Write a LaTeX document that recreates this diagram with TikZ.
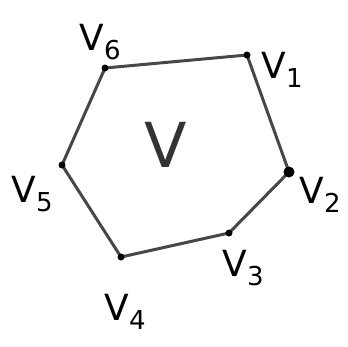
\documentclass[tikz,border=0pt]{standalone}
\usepackage{fontspec}
\setmainfont{DejaVu Sans}
\tikzset{
  edge/.style={draw=black!72, line width=3pt, line join=round},
  vdot/.style={circle, fill=black, inner sep=0pt, minimum size=7pt},
  vlabel/.style={inner sep=0pt, font=\fontsize{36}{36}\selectfont},
}
\newcommand{\vsub}[1]{V\raisebox{-9pt}{\fontsize{26}{26}\selectfont #1}}
\begin{document}
\begin{tikzpicture}[x=1pt,y=-1pt]
\useasboundingbox (0,0) rectangle (348,346);
\coordinate (v6) at (105,68);
\coordinate (v1) at (247,55);
\coordinate (v2) at (289,172);
\coordinate (v3) at (229,233);
\coordinate (v4) at (121,257);
\coordinate (v5) at (62,165);
\draw[edge] (v6) -- (v1) -- (v2) -- (v3) -- (v4) -- (v5) -- cycle;
\node[vdot] (d6) at (v6) {};
\node[vdot] (d1) at (v1) {};
\node[vdot, minimum size=11pt] (d2) at (v2) {};
\node[vdot] (d3) at (v3) {};
\node[vdot] (d4) at (v4) {};
\node[vdot] (d5) at (v5) {};
\node[vlabel] (l6) at (100,42) {\vsub{6}};
\node[vlabel] (l1) at (282,70) {\vsub{1}};
\node[vlabel] (l2) at (320,195) {\vsub{2}};
\node[vlabel] (l3) at (243,268) {\vsub{3}};
\node[vlabel] (l4) at (125,312) {\vsub{4}};
\node[vlabel] (l5) at (32,194) {\vsub{5}};
\node[inner sep=0pt, text=black!80, font=\fontsize{62}{62}\selectfont] (V) at (166,145) {V};
\end{tikzpicture}
\end{document}
